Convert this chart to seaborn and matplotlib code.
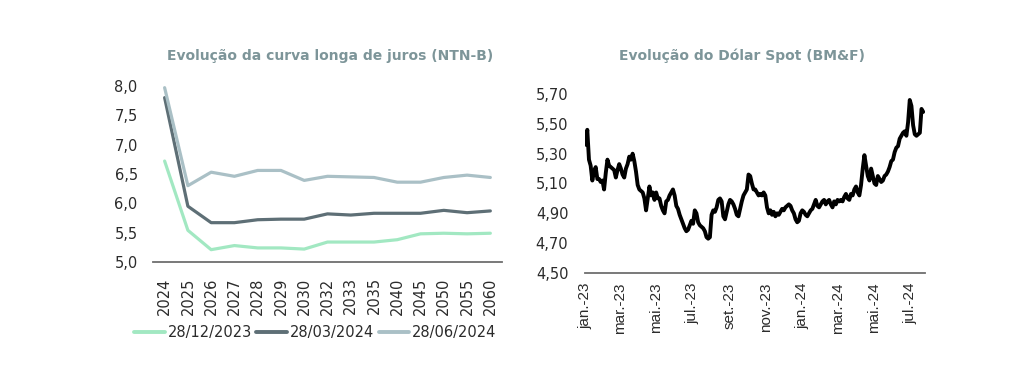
import seaborn as sns
import matplotlib.pyplot as plt
import matplotlib.dates as mdates
from matplotlib.ticker import FuncFormatter
import pandas as pd
import numpy as np

sns.set_style("white")
plt.rcParams['font.family'] = ['DejaVu Sans']

# --- data: NTN-B curve ---
vertices = ['2024', '2025', '2026', '2027', '2028', '2029', '2030', '2032',
            '2033', '2035', '2040', '2045', '2050', '2055', '2060']
curve_dez23 = [6.72, 5.54, 5.21, 5.28, 5.24, 5.24, 5.22, 5.34, 5.34, 5.34,
               5.38, 5.48, 5.49, 5.48, 5.49]
curve_mar24 = [7.80, 5.95, 5.67, 5.67, 5.72, 5.73, 5.73, 5.82, 5.80, 5.83,
               5.83, 5.83, 5.88, 5.84, 5.87]
curve_jun24 = [7.97, 6.30, 6.53, 6.46, 6.56, 6.56, 6.39, 6.46, 6.45, 6.44,
               6.36, 6.36, 6.44, 6.48, 6.44]
curve_labels = ['28/12/2023', '28/03/2024', '28/06/2024']

# --- data: USD/BRL spot ---
dolar = [
    5.36, 5.46, 5.26, 5.22, 5.12, 5.18, 5.21, 5.13, 5.13, 5.11,
    5.12, 5.06, 5.17, 5.26, 5.22, 5.21, 5.20, 5.19, 5.14, 5.19,
    5.23, 5.20, 5.16, 5.14, 5.20, 5.23, 5.28, 5.26, 5.30, 5.25,
    5.18, 5.09, 5.06, 5.05, 5.04, 5.00, 4.92, 5.00, 5.08, 5.02,
    5.04, 4.99, 5.04, 5.00, 5.00, 4.95, 4.92, 4.90, 4.98, 4.99,
    5.02, 5.04, 5.06, 5.02, 4.95, 4.93, 4.89, 4.86, 4.83, 4.80,
    4.78, 4.79, 4.82, 4.85, 4.83, 4.92, 4.90, 4.84, 4.82, 4.81,
    4.80, 4.78, 4.74, 4.73, 4.74, 4.89, 4.92, 4.91, 4.94, 4.99,
    5.00, 4.98, 4.88, 4.86, 4.91, 4.96, 4.99, 4.98, 4.96, 4.93,
    4.89, 4.88, 4.93, 4.98, 5.02, 5.04, 5.06, 5.16, 5.15, 5.10,
    5.06, 5.06, 5.04, 5.02, 5.03, 5.02, 5.04, 5.02, 4.94, 4.90,
    4.92, 4.89, 4.91, 4.88, 4.90, 4.89, 4.91, 4.93, 4.92, 4.94,
    4.95, 4.96, 4.95, 4.92, 4.90, 4.86, 4.84, 4.85, 4.90, 4.92,
    4.91, 4.89, 4.88, 4.90, 4.92, 4.93, 4.96, 4.99, 4.95, 4.94,
    4.96, 4.98, 4.99, 4.96, 4.98, 4.99, 4.96, 4.94, 4.98, 4.96,
    4.99, 4.98, 4.99, 4.98, 5.01, 5.03, 5.00, 4.99, 5.03, 5.02,
    5.06, 5.08, 5.04, 5.02, 5.09, 5.20, 5.29, 5.22, 5.15, 5.12,
    5.20, 5.15, 5.10, 5.09, 5.15, 5.13, 5.11, 5.12, 5.15, 5.16,
    5.18, 5.21, 5.25, 5.26, 5.31, 5.34, 5.35, 5.40, 5.42, 5.44,
    5.45, 5.42, 5.51, 5.66, 5.62, 5.49, 5.43, 5.42, 5.43, 5.44,
    5.60, 5.58,
]
dolar_start, dolar_end = '2023-01-02', '2024-07-22'
month_ticks = ['2023-01-01', '2023-03-01', '2023-05-01', '2023-07-01', '2023-09-01',
               '2023-11-01', '2024-01-01', '2024-03-01', '2024-05-01', '2024-07-01']
month_labels = ['jan.-23', 'mar.-23', 'mai.-23', 'jul.-23', 'set.-23',
                'nov.-23', 'jan.-24', 'mar.-24', 'mai.-24', 'jul.-24']

# tables for seaborn
df_curve = pd.DataFrame({'pos': np.arange(len(vertices)),
                         curve_labels[0]: curve_dez23,
                         curve_labels[1]: curve_mar24,
                         curve_labels[2]: curve_jun24})
df_curve = df_curve.melt(id_vars='pos', var_name='data', value_name='taxa')

df_dolar = pd.DataFrame({'date': pd.date_range(dolar_start, dolar_end, periods=len(dolar)),
                         'valor': dolar})

title_color = '#7d9599'
tick_color = '#2b2b2b'
palette = {curve_labels[0]: '#a2e8c2', curve_labels[1]: '#5e6f76', curve_labels[2]: '#aac0c6'}

fig = plt.figure(figsize=(10.24, 3.87), dpi=100)
ax1 = fig.add_axes([0.1494, 0.323, 0.3408, 0.455])
ax2 = fig.add_axes([0.5713, 0.2946, 0.332, 0.4625])

# left chart
sns.lineplot(data=df_curve, x='pos', y='taxa', hue='data', palette=palette,
             linewidth=2.3, ax=ax1, legend=False)
ax1.set_xlim(-0.5, len(vertices) - 0.5)
ax1.set_ylim(5.0, 8.0)
ax1.set_yticks(np.arange(5.0, 8.01, 0.5))
ax1.yaxis.set_major_formatter(FuncFormatter(lambda v, p: f'{v:.1f}'.replace('.', ',')))
ax1.set_xticks(np.arange(len(vertices)))
ax1.set_xticklabels(vertices, rotation=90)
ax1.tick_params(axis='y', length=0, pad=11, labelsize=10.5, colors=tick_color)
ax1.tick_params(axis='x', length=0, pad=11, labelsize=10.5, colors=tick_color)
ax1.set_xlabel('')
ax1.set_ylabel('')

# right chart
sns.lineplot(data=df_dolar, x='date', y='valor', color='black', linewidth=2.8, ax=ax2)
ax2.set_xlim(pd.Timestamp(dolar_start) - pd.Timedelta(days=1),
             pd.Timestamp(dolar_end) + pd.Timedelta(days=3))
ax2.set_ylim(4.5, 5.7)
ax2.set_yticks(np.arange(4.5, 5.71, 0.2))
ax2.yaxis.set_major_formatter(FuncFormatter(lambda v, p: f'{v:.2f}'.replace('.', ',')))
ax2.set_xticks(pd.to_datetime(month_ticks))
ax2.set_xticklabels(month_labels, rotation=90, family='Liberation Sans', fontsize=11)
ax2.tick_params(axis='y', length=0, pad=12, labelsize=10.5, colors=tick_color)
ax2.tick_params(axis='x', length=0, pad=7, colors=tick_color)
ax2.set_xlabel('')
ax2.set_ylabel('')

for ax in (ax1, ax2):
    for s in ('top', 'right', 'left'):
        ax.spines[s].set_visible(False)
    ax.spines['bottom'].set_color('#6e6e6e')
    ax.spines['bottom'].set_linewidth(1.3)
    ax.grid(False)

fig.text(0.322, 0.855, 'Evolução da curva longa de juros (NTN-B)', ha='center', va='center',
         fontsize=10, fontweight='bold', color=title_color)
fig.text(0.725, 0.855, 'Evolução do Dólar Spot (BM&F)', ha='center', va='center',
         fontsize=10, fontweight='bold', color=title_color)

handles = [plt.Line2D([], [], color=palette[k], linewidth=2.8) for k in curve_labels]
fig.legend(handles, curve_labels, loc='center', bbox_to_anchor=(0.308, 1 - 333 / 387),
           ncol=3, frameon=False, fontsize=10.5, handlelength=2.1, handletextpad=0.2,
           columnspacing=0.3, labelcolor=tick_color)

plt.savefig('out.png', dpi=100)
